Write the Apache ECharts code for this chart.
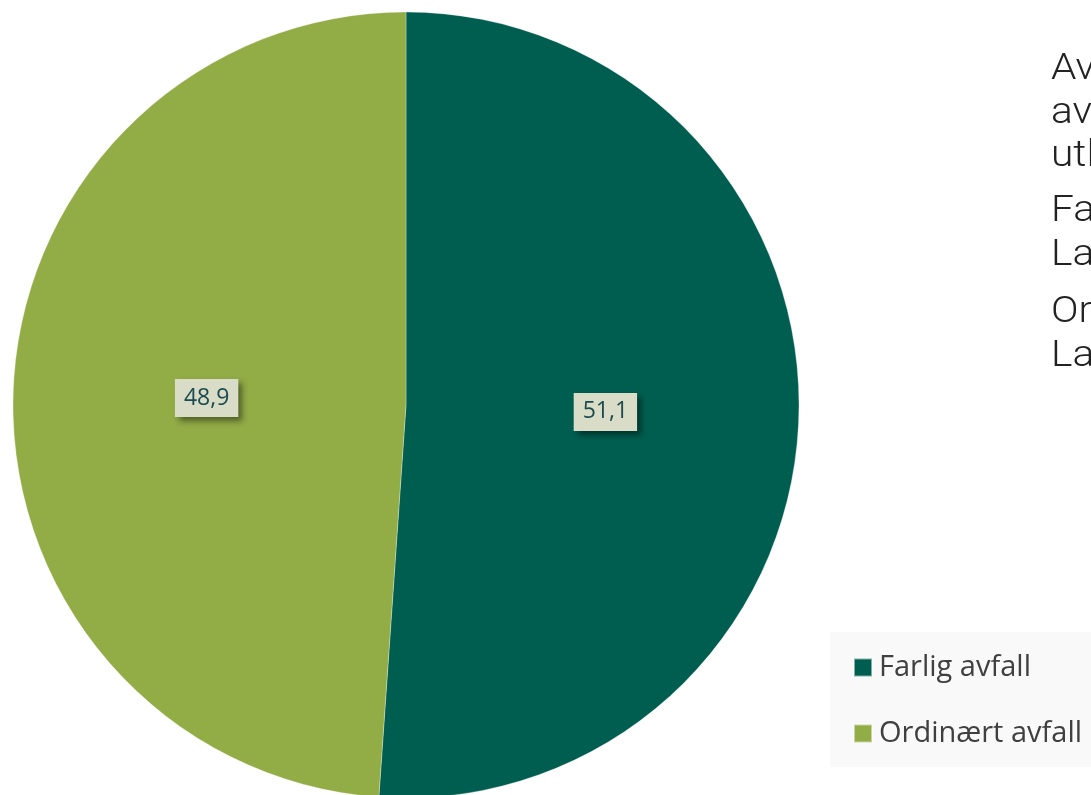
<!DOCTYPE html>
<html><head><meta charset="utf-8">
<script src="https://cdn.jsdelivr.net/npm/echarts@6/dist/echarts.min.js"></script>
<style>html,body{margin:0;padding:0;background:#fff}#c{width:1091px;height:795px}</style>
</head><body><div id="c"></div>
<script>
const categories = ["Farlig avfall", "Ordinært avfall"];
const values = [51.1, 48.9];
const colors = ["#005e50", "#92ac46"];
const sideText = [
  ["Avfallsmengder etter", "avfallstype, andel av", "utlevert avfall"],
  ["Farlig avfall:", "Landsgjennomsnitt"],
  ["Ordinært avfall:", "Landsgjennomsnitt"]
];

const chart = echarts.init(document.getElementById('c'));
const graphics = [{
  type: 'rect', shape: {x: 830, y: 632, width: 261, height: 135},
  style: {fill: '#f9f9f9'}, z: 0
}];
const paraTops = [70, 212, 313];
sideText.forEach((para, p) => {
  para.forEach((line, i) => {
    graphics.push({
      type: 'text', x: 1051, y: paraTops[p] + i * 43.5, scaleX: 1.1,
      style: {text: line, fill: '#222', font: '300 37px Roboto', textVerticalAlign: 'middle'}
    });
  });
});

chart.setOption({
  backgroundColor: '#fff',
  animation: false,
  graphic: graphics,
  legend: {
    orient: 'vertical', left: 853, top: 653, padding: 0,
    itemWidth: 18, itemHeight: 18, itemGap: 37,
    icon: 'rect',
    textStyle: {fontFamily: 'Open Sans', fontSize: 29, color: '#404040', padding: [0,0,0,2]},
    data: categories
  },
  series: [{
    type: 'pie',
    center: [406, 405],
    radius: [0, 393],
    startAngle: 90,
    clockwise: true,
    itemStyle: {borderColor: 'rgba(255,255,255,0.5)', borderWidth: 0.6},
    label: {
      show: true, position: 'inside',
      formatter: p => String(p.value).replace('.', ','),
      fontFamily: 'Open Sans', fontSize: 23, color: '#1b4a50',
      backgroundColor: '#d9dcc6', padding: [8, 9, 7, 9],
      shadowBlur: 6, shadowOffsetX: 4, shadowOffsetY: 4, shadowColor: 'rgba(0,0,0,0.45)'
    },
    labelLine: {show: false},
    emphasis: {disabled: true},
    data: categories.map((n, i) => ({name: n, value: values[i], itemStyle: {color: colors[i]}}))
  }]
});
</script></body></html>
